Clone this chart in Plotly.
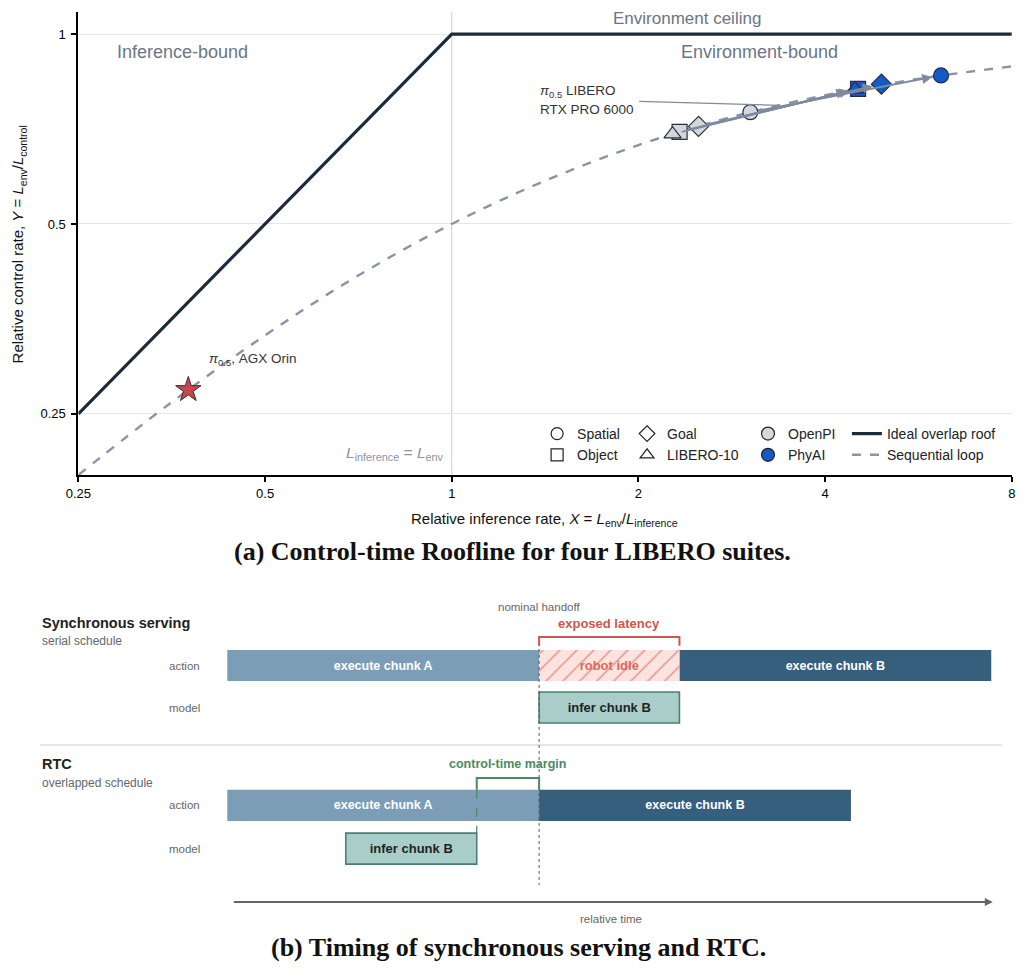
import numpy as np
import plotly.graph_objects as go

W, H = 1027, 977
FONT = "Liberation Sans, Arial, sans-serif"
SERIF = "Liberation Serif, serif"

# ---- (a) roofline data ----
suites = ["Spatial", "Object", "Goal", "LIBERO-10"]
suite_symbols = ["circle", "square", "diamond", "triangle-up"]
suite_sizes = [15, 15, 15.5, 15]
openpi_x = [3.03, 2.33, 2.50, 2.27]
openpi_y = [0.752, 0.700, 0.714, 0.694]
phyai_x = [6.15, 4.52, 4.93, 4.47]
phyai_y = [0.860, 0.819, 0.833, 0.818]
orin_x = [0.376]
orin_y = [0.273]

roof_x = [0.25, 1, 8]
roof_y = [0.25, 1, 1]
seq_x = [0.25, 0.35, 0.5, 0.7, 1, 1.4, 2, 2.8, 4, 5.6, 8]
seq_y = [0.200, 0.259, 0.333, 0.412, 0.500, 0.583, 0.667, 0.737, 0.800, 0.848, 0.889]

x_ticks = [0.25, 0.5, 1, 2, 4, 8]
y_ticks = [0.25, 0.5, 1]

# ---- (b) timing data (time in chunk lengths) ----
sync_action_labels = ["execute chunk A", "robot idle", "execute chunk B"]
sync_action_start = [0.0, 1.0, 1.45]
sync_action_len = [1.0, 0.45, 1.0]
sync_infer_start = [1.0]
sync_infer_len = [0.45]
rtc_action_labels = ["execute chunk A", "execute chunk B"]
rtc_action_start = [0.0, 1.0]
rtc_action_len = [1.0, 1.0]
rtc_infer_start = [0.38]
rtc_infer_len = [0.42]
handoff_t = 1.0
time_span = [0.016, 2.455]

# colours
NAVY = "#1c2b3a"
SEQ = "#8a94a6"
OPEN_FILL = "#d4d7dc"
PHY_FILL = "#1558c7"
EDGE = "#26303d"
CHUNK_A = "#7b9db6"
CHUNK_B = "#365e7d"
INFER_FILL = "#a9cec9"
INFER_EDGE = "#4d7d73"
RED = "#d0564b"
GREEN = "#4a8a63"
GRAY_TXT = "#6b7585"

# the page is photographed slightly squeezed and shifted; place things by target pixel
SX, OX, OY = 0.984, 20.6, 8.0


def fx(x):
    return (x - OX) / SX


def px(x):
    return fx(x) / W


def py(y):
    return 1 - (y - OY) / H


fig = go.Figure()

# ---------- top panel ----------
fig.add_trace(go.Scatter(
    x=roof_x, y=roof_y, mode="lines", name="Ideal overlap roof",
    line=dict(color=NAVY, width=3.2), legend="legend4",
))
fig.add_trace(go.Scatter(
    x=seq_x, y=seq_y, mode="lines", name="Sequential loop",
    line=dict(color=SEQ, width=2.4, dash="dash", shape="spline"), legend="legend4",
))

for i, s in enumerate(suites):
    for xs, ys, col in [(openpi_x, openpi_y, OPEN_FILL), (phyai_x, phyai_y, PHY_FILL)]:
        fig.add_trace(go.Scatter(
            x=[xs[i]], y=[ys[i]], mode="markers", showlegend=False,
            marker=dict(symbol=suite_symbols[i], size=suite_sizes[i],
                        color=col, line=dict(color=EDGE, width=1.2)),
        ))

fig.add_trace(go.Scatter(
    x=orin_x, y=orin_y, mode="markers", showlegend=False,
    marker=dict(symbol="star", size=19, color="#c8464d", line=dict(color="#3a2a2a", width=1)),
))

# legend entries
for i, s in enumerate(suites):
    fig.add_trace(go.Scatter(
        x=[None], y=[None], mode="markers", name=s,
        legend="legend" if i < 2 else "legend2",
        marker=dict(symbol=suite_symbols[i], size=12, color="white", line=dict(color="#222", width=1.2)),
    ))
for name, col in [("OpenPI", OPEN_FILL), ("PhyAI", PHY_FILL)]:
    fig.add_trace(go.Scatter(
        x=[None], y=[None], mode="markers", name=name, legend="legend3",
        marker=dict(symbol="circle", size=13, color=col, line=dict(color="#222", width=1.2)),
    ))

# ---------- bottom panel (bars) ----------
ROWS = {"sync_action": 0.0, "sync_model": 1.0, "rtc_action": 3.33, "rtc_model": 4.36}
BW = 0.74


def hbar(row, start, length, labels, color, tcolor, line=None, pattern=None, tsize=12.5):
    fig.add_trace(go.Bar(
        y=[ROWS[row]] * len(start), x=length, base=start, orientation="h",
        width=BW, xaxis="x2", yaxis="y2", showlegend=False,
        marker=dict(color=color, line=line or dict(width=0), pattern=pattern),
        text=["<b>%s</b>" % t for t in labels], textposition="inside",
        insidetextanchor="middle", textangle=0,
        textfont=dict(color=tcolor, size=tsize, family=FONT),
        hoverinfo="skip",
    ))


hbar("sync_action", [sync_action_start[0], sync_action_start[2]],
     [sync_action_len[0], sync_action_len[2]],
     [sync_action_labels[0], sync_action_labels[2]], [CHUNK_A, CHUNK_B], "white")
hbar("sync_action", [sync_action_start[1]], [sync_action_len[1]], [sync_action_labels[1]],
     "#fbe4df", "#d9695e",
     pattern=dict(shape="/", fgcolor="#de5d52", size=12, solidity=0.16, fillmode="overlay"),
     tsize=13)
hbar("sync_model", sync_infer_start, sync_infer_len, ["infer chunk B"], INFER_FILL, "#222",
     line=dict(color=INFER_EDGE, width=1.6), tsize=13)
hbar("rtc_action", rtc_action_start, rtc_action_len, rtc_action_labels, [CHUNK_A, CHUNK_B], "white")
hbar("rtc_model", rtc_infer_start, rtc_infer_len, ["infer chunk B"], INFER_FILL, "#222",
     line=dict(color=INFER_EDGE, width=1.6), tsize=13)


# ---------- annotations ----------
def label(x, y, text, size, color, xanchor="center", **kw):
    return dict(x=px(x), y=py(y), xref="paper", yref="paper", text=text, showarrow=False,
                xanchor=xanchor, yanchor="middle", font=dict(size=size, color=color, **kw))


ann = [
    label(182, 52, "Inference-bound", 18, GRAY_TXT),
    label(760, 52, "Environment-bound", 18, GRAY_TXT),
    label(687, 18, "Environment ceiling", 17, GRAY_TXT),
    label(446, 453, "<i>L</i><sub>inference</sub> = <i>L</i><sub>env</sub>", 15.5, SEQ, xanchor="right"),
    label(207, 359, "<i>π</i><sub>0.5</sub>, AGX Orin", 13.5, "#333", xanchor="left"),
    label(538, 91, "<i>π</i><sub>0.5</sub> LIBERO", 13.5, "#333", xanchor="left"),
    label(538, 110, "RTX PRO 6000", 13.5, "#333", xanchor="left"),
    label(544, 519, "Relative inference rate, <i>X</i> = <i>L</i><sub>env</sub>/<i>L</i><sub>inference</sub>",
          15, "#111"),
    label(512, 551, "<b>(a) Control-time Roofline for four LIBERO suites.</b>", 26, "#111",
          family=SERIF),
    label(518, 947, "<b>(b) Timing of synchronous serving and RTC.</b>", 26, "#111",
          family=SERIF),
]
ylab = label(18, 244, "Relative control rate, <i>Y</i> = <i>L</i><sub>env</sub>/<i>L</i><sub>control</sub>",
             15, "#111")
ylab["textangle"] = -90
ann.append(ylab)

# pointer line for the RTX PRO 6000 label
ann.append(dict(x=np.log10(3.37), y=np.log10(0.771), xref="x", yref="y", text="",
                showarrow=True, arrowhead=0, arrowwidth=1.2, arrowcolor="#7f8aa0",
                ax=(641 - 780) / SX, ay=-4, standoff=0))

for i in range(len(suites)):
    ann.append(dict(
        x=np.log10(phyai_x[i]), y=np.log10(phyai_y[i]), xref="x", yref="y",
        ax=np.log10(openpi_x[i]), ay=np.log10(openpi_y[i]), axref="x", ayref="y",
        showarrow=True, arrowhead=2, arrowsize=1, arrowwidth=2, arrowcolor="#7f8aa0",
        standoff=9, startstandoff=8, text="",
    ))

# bottom labels
ann += [
    label(40, 623, "<b>Synchronous serving</b>", 14.5, "#222", xanchor="left"),
    label(40, 641, "serial schedule", 12, "#666", xanchor="left"),
    label(40, 764, "<b>RTC</b>", 14.5, "#222", xanchor="left"),
    label(40, 783, "overlapped schedule", 12, "#666", xanchor="left"),
]
for r, lab in [("sync_action", "action"), ("sync_model", "model"),
               ("rtc_action", "action"), ("rtc_model", "model")]:
    ann.append(dict(x=px(202), y=ROWS[r], xref="paper", yref="y2", xanchor="right",
                    yanchor="middle", text=lab, showarrow=False, font=dict(size=11.5, color="#666")))

exposed = sync_action_len[1]
margin_start = rtc_infer_start[0] + rtc_infer_len[0]


def tlabel(t, r, text, size, color):
    return dict(x=t, y=r, xref="x2", yref="y2", text=text, showarrow=False,
                xanchor="center", yanchor="middle", font=dict(size=size, color=color))


ann += [
    tlabel(handoff_t, -1.39, "nominal handoff", 11.5, "#666"),
    tlabel(handoff_t + exposed / 2, -1.01, "<b>exposed latency</b>", 13, RED),
    tlabel((margin_start + handoff_t) / 2, 2.35, "<b>control-time margin</b>", 12.5, GREEN),
    tlabel(1.23, 6.04, "relative time", 11.5, "#666"),
    dict(x=time_span[1], y=5.63, ax=time_span[0], ay=5.63, xref="x2", yref="y2",
         axref="x2", ayref="y2", text="", showarrow=True, arrowhead=2, arrowsize=0.8,
         arrowwidth=2, arrowcolor="#666"),
]

# ---------- shapes ----------
shapes = [
    dict(type="line", xref="x", yref="paper", x0=1, x1=1, y0=py(475), y1=py(12),
         line=dict(color="#cfcfcf", width=1), layer="below"),
    dict(type="line", xref="paper", yref="paper", x0=px(40), x1=px(1002), y0=py(745), y1=py(745),
         line=dict(color="#cccccc", width=1)),
    dict(type="line", xref="x2", yref="y2", x0=handoff_t, x1=handoff_t, y0=-0.68, y1=5.23,
         line=dict(color="#555", width=1, dash="dot")),
    # exposed latency bracket
    dict(type="path", xref="x2", yref="y2",
         path="M %f,%f L %f,%f L %f,%f L %f,%f" % (handoff_t, -0.47, handoff_t, -0.68,
                                                   handoff_t + exposed, -0.68, handoff_t + exposed, -0.47),
         line=dict(color=RED, width=2)),
    # control-time margin bracket
    dict(type="path", xref="x2", yref="y2",
         path="M %f,%f L %f,%f L %f,%f L %f,%f" % (margin_start, 2.96, margin_start, 2.68,
                                                   handoff_t, 2.68, handoff_t, 2.96),
         line=dict(color=GREEN, width=2)),
    dict(type="line", xref="x2", yref="y2", x0=margin_start, x1=margin_start, y0=2.96, y1=3.99,
         line=dict(color=GREEN, width=1.2, dash="dash")),
]

leg_common = dict(bgcolor="rgba(0,0,0,0)", font=dict(size=14, color="#222", family=FONT),
                  xanchor="left", yanchor="top", itemsizing="trace", tracegroupgap=0)

# time axis: t=0 at target px 227, one chunk = 312 px
T0, TS = 227.0, 312.0
R0, RS = 665.5, 42.0

fig.update_layout(
    width=W, height=H, margin=dict(l=0, r=0, t=0, b=0),
    paper_bgcolor="white", plot_bgcolor="white",
    font=dict(family=FONT, color="#111"),
    barmode="overlay",
    xaxis=dict(type="log", domain=[px(78), px(1012)], range=[np.log10(0.25), np.log10(8)],
               tickvals=x_ticks, ticktext=["0.25", "0.5", "1", "2", "4", "8"],
               showgrid=False, zeroline=False, showline=True, linecolor="black", linewidth=2,
               ticks="outside", ticklen=5, tickwidth=1.5, tickcolor="black",
               tickfont=dict(size=13, color="black"), anchor="y"),
    yaxis=dict(type="log", domain=[py(475), py(12)], range=[np.log10(0.2), np.log10(1.084)],
               tickvals=y_ticks, ticktext=["0.25", "0.5", "1"],
               showgrid=True, gridcolor="#e4e6ea", gridwidth=1, zeroline=False,
               showline=True, linecolor="black", linewidth=2,
               ticks="outside", ticklen=5, tickwidth=1.5, tickcolor="black",
               ticklabelstandoff=3,
               tickfont=dict(size=13, color="black"), anchor="x"),
    xaxis2=dict(domain=[0, 1], range=[(OX - T0) / TS, (OX + SX * W - T0) / TS], visible=False,
                anchor="y2", fixedrange=True),
    yaxis2=dict(domain=[py(930), py(595)],
                range=[(930 - R0) / RS, (595 - R0) / RS], visible=False,
                anchor="x2", fixedrange=True),
    legend=dict(x=px(537), y=py(418), **leg_common),
    legend2=dict(x=px(627), y=py(418), **leg_common),
    legend3=dict(x=px(748), y=py(418), **leg_common),
    legend4=dict(x=px(847), y=py(418), **leg_common),
    annotations=ann,
    shapes=shapes,
)

fig.write_html("out.html")
